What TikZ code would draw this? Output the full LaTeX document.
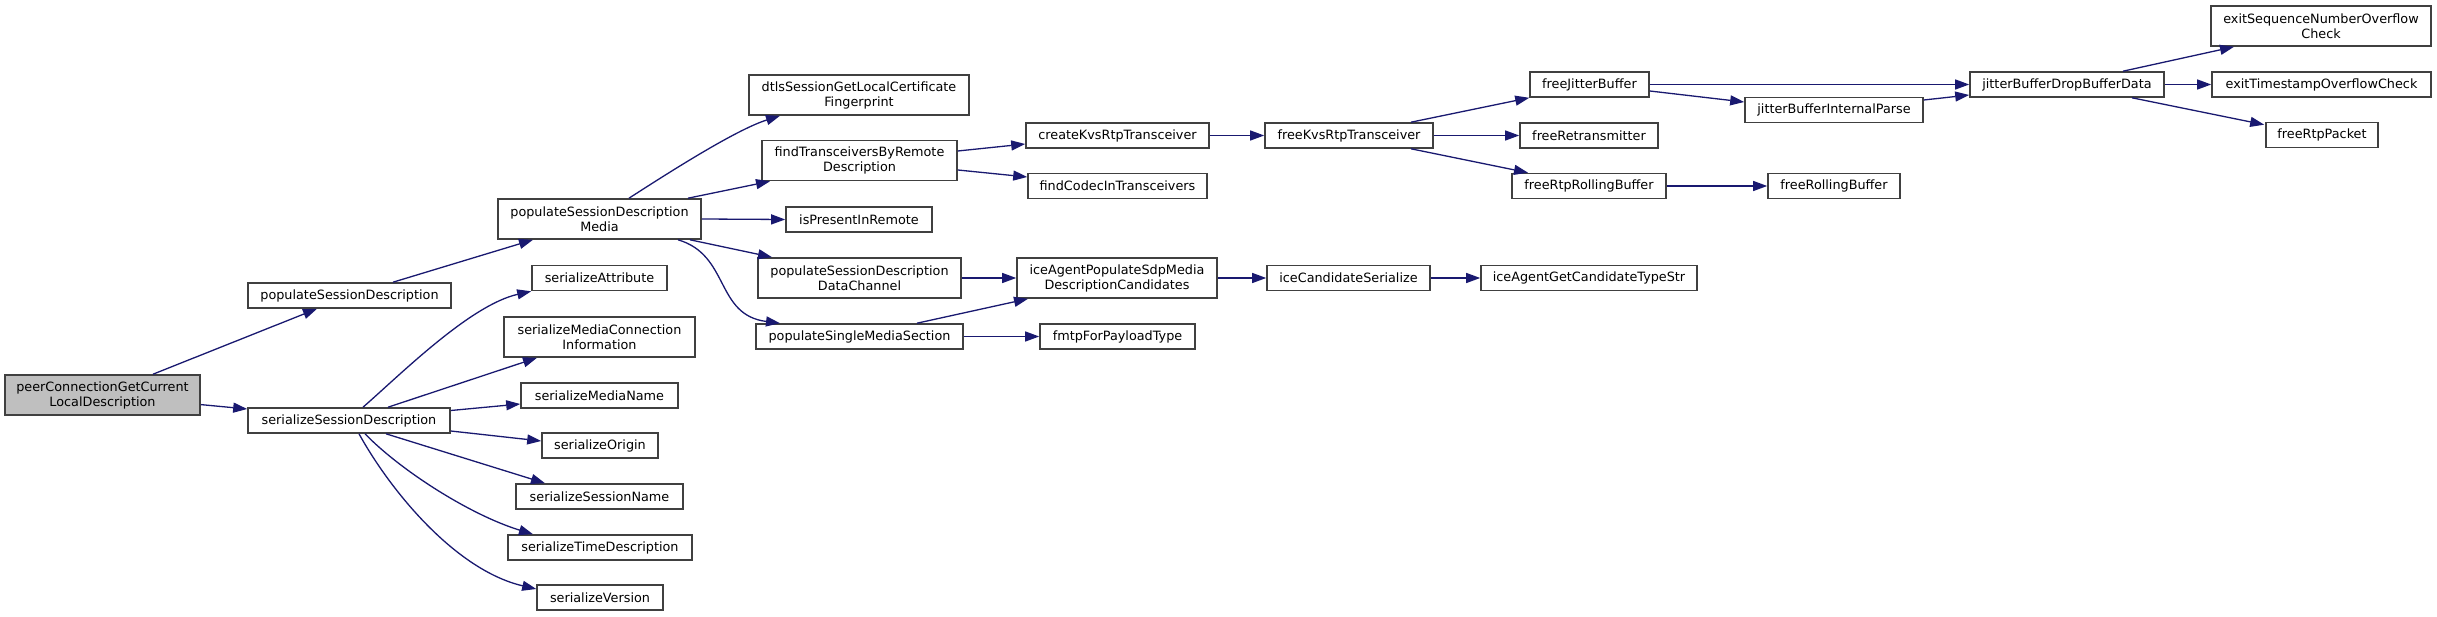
\documentclass[tikz,border=0pt]{standalone}
\usepackage{fontspec}
\setmainfont{DejaVu Sans}
\usetikzlibrary{arrows.meta,calc}
\definecolor{edgeblue}{HTML}{191970}
\definecolor{boxline}{HTML}{404040}
\definecolor{rootfill}{HTML}{BFBFBF}
\newcommand\fnode[7][]{\node[fn,#1,minimum width=#5pt,minimum height=#6pt] (#2) at (#3,#4) {#7};}
\begin{document}
\begin{tikzpicture}[x=1pt,y=-1pt,
  fn/.style={draw=boxline, line width=1.6pt, fill=white, inner sep=0pt, align=center,
    font=\fontsize{12.8}{15}\selectfont, text=black},
  call/.style={draw=edgeblue, line width=1.3pt, -{Triangle[length=14pt,width=10pt]}}]
\fill[white] (0,0) rectangle (2437,617);
\useasboundingbox (0,0) rectangle (2437,617);
% nodes
\fnode[fill=rootfill]{peer}{102.5}{395}{195}{40}{peerConnectionGetCurrent\\LocalDescription}
\fnode{pSD}{349.5}{295.5}{203}{25}{populateSessionDescription}
\fnode{sSD}{349}{420.5}{202}{25}{serializeSessionDescription}
\fnode{pSDM}{599.5}{219}{203}{40}{populateSessionDescription\\Media}
\fnode{sA}{599.5}{278}{135}{25}{serializeAttribute}
\fnode{sMCI}{599.5}{337}{191}{40}{serializeMediaConnection\\Information}
\fnode{sMN}{599.5}{395.5}{157}{25}{serializeMediaName}
\fnode{sO}{600}{445.5}{116}{25}{serializeOrigin}
\fnode{sSN}{599.5}{496.5}{167}{25}{serializeSessionName}
\fnode{sTD}{600}{547.5}{184}{25}{serializeTimeDescription}
\fnode{sV}{600}{597.5}{126}{25}{serializeVersion}
\fnode{dtls}{859}{95}{220}{40}{dtlsSessionGetLocalCertificate\\Fingerprint}
\fnode{findT}{859.5}{160.5}{195}{40}{findTransceiversByRemote\\Description}
\fnode{isPresent}{859}{219.5}{146}{25}{isPresentInRemote}
\fnode{pSDDC}{859.5}{278}{203}{40}{populateSessionDescription\\DataChannel}
\fnode{pSMS}{859.5}{336.5}{207}{25}{populateSingleMediaSection}
\fnode{createKvs}{1117.5}{135.5}{183}{25}{createKvsRtpTransceiver}
\fnode{findCodec}{1117.5}{186}{179}{25}{findCodecInTransceivers}
\fnode{icePop}{1117}{278}{200}{40}{iceAgentPopulateSdpMedia\\DescriptionCandidates}
\fnode{fmtp}{1117.5}{336.5}{155}{25}{fmtpForPayloadType}
\fnode{freeKvs}{1349}{135.5}{168}{25}{freeKvsRtpTransceiver}
\fnode{iceSer}{1348.5}{278}{163}{25}{iceCandidateSerialize}
\fnode{freeJB}{1589.5}{84.5}{119}{25}{freeJitterBuffer}
\fnode{freeRetrans}{1589}{135.5}{138}{25}{freeRetransmitter}
\fnode{freeRtpRB}{1589}{186}{154}{25}{freeRtpRollingBuffer}
\fnode{iceType}{1589}{278}{216}{25}{iceAgentGetCandidateTypeStr}
\fnode{jBIP}{1834}{110}{178}{25}{jitterBufferInternalParse}
\fnode{freeRB}{1834}{186}{132}{25}{freeRollingBuffer}
\fnode{jBDBD}{2067}{84.5}{194}{25}{jitterBufferDropBufferData}
\fnode{exitSeq}{2321}{26}{220}{40}{exitSequenceNumberOverflow\\Check}
\fnode{exitTS}{2321.5}{84.5}{219}{25}{exitTimestampOverflowCheck}
\fnode{freeRtpPacket}{2322}{135}{112}{25}{freeRtpPacket}
% edges
\draw[call] ($(peer.north)+(50.5,0)$) -- ($(pSD.south)+(-32.5,0)$);
\draw[call] ($(peer.east)+(0,9.6)$) -- ($(sSD.west)+(0,-11.5)$);
\draw[call] ($(pSD.north)+(43.5,0)$) -- ($(pSDM.south)+(-66.5,0)$);
\draw[call] ($(sSD.north)+(14,0)$) .. controls (400,375) and (470,305) .. (sA.south west);
\draw[call] ($(sSD.north)+(39,0)$) -- ($(sMCI.south)+(-62.5,0)$);
\draw[call] ($(sSD.east)+(0,-10)$) -- ($(sMN.west)+(0,8.5)$);
\draw[call] ($(sSD.east)+(0,10.5)$) -- ($(sO.west)+(0,-4.5)$);
\draw[call] ($(sSD.south)+(37,0)$) -- ($(sSN.north)+(-54.5,0)$);
\draw[call] ($(sSD.south)+(16,0)$) .. controls (400,470) and (470,515) .. ($(sTD.north)+(-67,0)$);
\draw[call] ($(sSD.south)+(10,0)$) .. controls (390,490) and (455,570) .. ($(sV.west)+(0,-8.5)$);
\draw[call] ($(pSDM.north)+(29.5,0)$) .. controls (665,175) and (735,130) .. ($(dtls.south)+(-79,0)$);
\draw[call] ($(pSDM.north)+(88.5,0)$) -- ($(findT.south)+(-89.5,0)$);
\draw[call] (pSDM.east) -- (isPresent.west);
\draw[call] ($(pSDM.south)+(90.5,0)$) -- ($(pSDDC.north)+(-87.5,0)$);
\draw[call] ($(pSDM.south)+(78.5,0)$) .. controls (730,255) and (715,315) .. ($(pSMS.north)+(-79.5,0)$);
\draw[call] ($(findT.east)+(0,-9.5)$) -- ($(createKvs.west)+(0,8.5)$);
\draw[call] ($(findT.east)+(0,9.5)$) -- ($(findCodec.west)+(0,-9)$);
\draw[call] (createKvs.east) -- (freeKvs.west);
\draw[call] (pSDDC.east) -- (icePop.west);
\draw[call] ($(pSMS.north)+(57.5,0)$) -- ($(icePop.south)+(-89,0)$);
\draw[call] (pSMS.east) -- (fmtp.west);
\draw[call] (icePop.east) -- (iceSer.west);
\draw[call] (iceSer.east) -- (iceType.west);
\draw[call] ($(freeKvs.north)+(62,0)$) -- (freeJB.south west);
\draw[call] (freeKvs.east) -- (freeRetrans.west);
\draw[call] ($(freeKvs.south)+(62,0)$) -- ($(freeRtpRB.north)+(-61,0)$);
\draw[call] (freeRtpRB.east) -- (freeRB.west);
\draw[call] (freeJB.east) -- (jBDBD.west);
\draw[call] ($(freeJB.east)+(0,6.5)$) -- ($(jBIP.west)+(0,-8)$);
\draw[call] ($(jBIP.east)+(0,-10)$) -- ($(jBDBD.west)+(0,10.5)$);
\draw[call] ($(jBDBD.north)+(56,0)$) -- ($(exitSeq.south)+(-87,0)$);
\draw[call] (jBDBD.east) -- (exitTS.west);
\draw[call] ($(jBDBD.south)+(65,0)$) -- ($(freeRtpPacket.north west)+(-1,3)$);
\end{tikzpicture}
\end{document}
